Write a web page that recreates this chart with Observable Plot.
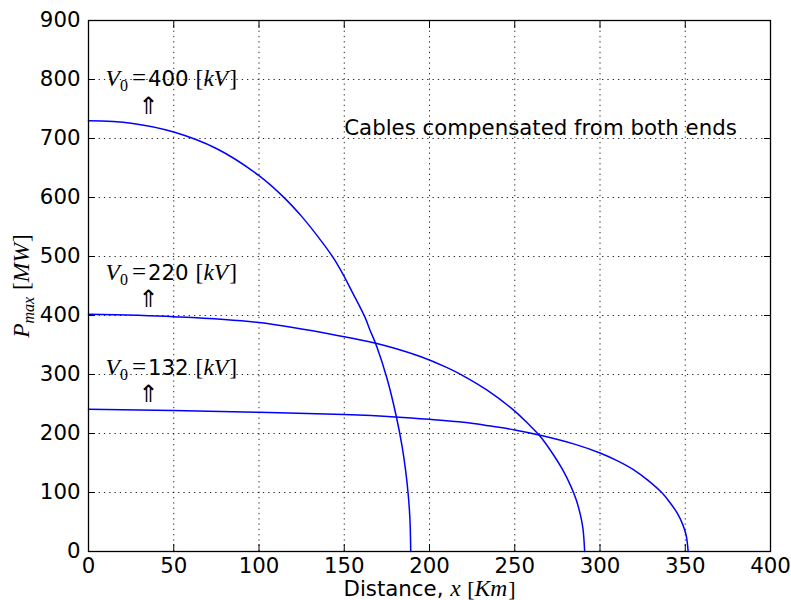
<!DOCTYPE html>
<html>
<head>
<meta charset="utf-8">
<script src="https://cdn.jsdelivr.net/npm/d3@7"></script>
<script src="https://cdn.jsdelivr.net/npm/@observablehq/plot@0.6"></script>
<style>
  body { margin: 0; background: #fff; }
  #chart svg { display: block; }
</style>
</head>
<body>
<div id="chart"></div>
<script>
// Maximum transmissible power of compensated cables versus distance.
const dist400 = [0, 25, 50, 75, 100, 115, 125, 135, 144, 150, 155, 162, 165, 169, 175, 180.6, 184, 186, 187.5, 188.5, 189];
const pmax400 = [730, 726, 711, 683, 637, 599, 568, 532, 496, 466, 438, 398, 376, 348, 294, 228, 177, 137, 97, 56, 0];

const dist220 = [0, 50, 100, 150, 168.5, 180, 195, 210, 219, 234, 250, 258, 265, 272, 278, 283, 286, 288.5, 290, 291];
const pmax220 = [402, 398, 388, 364, 353, 344, 330, 312, 299, 273, 238, 216, 195, 167, 139, 110, 88, 62, 39, 0];

const dist132 = [0, 50, 100, 150, 180, 200, 220, 235, 250, 265, 285, 300, 310, 320, 328, 336.5, 341, 345.3, 348.5, 350.5, 351.7];
const pmax132 = [241, 239, 236, 232, 228, 224, 219, 213, 206, 197, 182, 167, 154, 138, 121, 99, 83, 65, 46, 28, 0];

// Voltage annotations: label text position and the arrow under it
const voltages = ["400", "220", "132"];
const labelX = [10, 10, 10];
const labelY = [800, 472, 311];
const arrowX = [35, 35, 35];
const arrowY = [755, 427, 266];

const noteText = "Cables compensated from both ends";
const noteX = [150];
const noteY = [717];

const xTicks = [0, 50, 100, 150, 200, 250, 300, 350, 400];
const yTicks = [0, 100, 200, 300, 400, 500, 600, 700, 800, 900];

const SANS = "DejaVu Sans";
const SERIF = "Liberation Serif";
const FS = 21.3;
const MATH = 23.5;

const series = [
  {kv: "400", dist: dist400, pmax: pmax400},
  {kv: "220", dist: dist220, pmax: pmax220},
  {kv: "132", dist: dist132, pmax: pmax132}
];
const rows = series.flatMap(s => s.dist.map((d, i) => ({kv: s.kv, dist: d, pmax: s.pmax[i]})));

const gridStyle = {stroke: "#000", strokeOpacity: 0.85, strokeWidth: 1, strokeDasharray: "1.3,4"};

const chart = Plot.plot({
  width: 791,
  height: 600,
  marginLeft: 88,
  marginRight: 21,
  marginTop: 20,
  marginBottom: 49,
  x: {domain: [0, 400]},
  y: {domain: [0, 900]},
  style: {fontFamily: SANS, fontSize: FS + "px", color: "#000", background: "#fff"},
  marks: [
    Plot.ruleX(xTicks, gridStyle),
    Plot.ruleY(yTicks, gridStyle),
    Plot.line(rows, {x: "dist", y: "pmax", z: "kv", stroke: "#0000ff", strokeWidth: 1.5, curve: "catmull-rom"}),
    // tick labels
    Plot.axisX(xTicks, {anchor: "bottom", tickSize: 0, tickPadding: 6, fontSize: FS, label: null}),
    Plot.axisY(yTicks, {anchor: "left", tickSize: 0, tickPadding: 8, fontSize: FS, label: null}),
    // inward tick marks on all four sides
    Plot.axisX(xTicks, {anchor: "bottom", tickSize: 7, dy: -7, fill: "none", label: null}),
    Plot.axisX(xTicks, {anchor: "top", tickSize: 7, dy: 7, fill: "none", label: null}),
    Plot.axisY(yTicks, {anchor: "left", tickSize: 7, dx: 7, fill: "none", label: null}),
    Plot.axisY(yTicks, {anchor: "right", tickSize: 7, dx: -7, fill: "none", label: null}),
    Plot.frame({stroke: "#000", strokeWidth: 1.3}),
    // annotations
    Plot.text(voltages, {x: labelX, y: labelY, text: voltages, textAnchor: "start", lineAnchor: "middle", fontSize: FS, ariaDescription: "voltage label"}),
    Plot.text(voltages, {x: arrowX, y: arrowY, text: () => "\u21D1", lineAnchor: "middle", fontSize: 24, fontFamily: "DejaVu Sans", ariaDescription: "voltage arrow"}),
    Plot.text([noteText], {x: noteX, y: noteY, text: d => d, textAnchor: "start", lineAnchor: "middle", fontSize: FS, ariaDescription: "note"}),
    Plot.text(["Distance"], {frameAnchor: "bottom", dy: 38, textAnchor: "middle", lineAnchor: "middle", fontSize: FS, ariaDescription: "x label"}),
    Plot.text(["P"], {frameAnchor: "left", dx: -66, rotate: -90, textAnchor: "middle", lineAnchor: "middle", fontSize: FS, ariaDescription: "y label"})
  ]
});

// Mixed-font labels built from tspans
const SVGNS = "http://www.w3.org/2000/svg";
function setRich(el, parts) {
  el.textContent = "";
  for (const p of parts) {
    const ts = document.createElementNS(SVGNS, "tspan");
    ts.textContent = p.t;
    if (p.font) ts.setAttribute("font-family", p.font);
    if (p.italic) ts.setAttribute("font-style", "italic");
    if (p.size) ts.setAttribute("font-size", p.size);
    if (p.dx) ts.setAttribute("dx", p.dx);
    if (p.dy) ts.setAttribute("dy", p.dy);
    el.appendChild(ts);
  }
}
// text marks in drawing order: voltage labels, arrows, note, x label, y label
const textGroups = [...chart.querySelectorAll('g[aria-label="text"]')];
function textsOf(name, order) {
  let g = chart.querySelector(`g[aria-description="${name}"]`);
  if (!g) g = textGroups[order];
  return g ? [...g.querySelectorAll("text")] : [];
}

textsOf("voltage label", 0).forEach((el, i) => {
  setRich(el, [
    {t: "V", font: SERIF, italic: true, size: MATH},
    {t: "0", font: SERIF, size: 16, dy: 5},
    {t: "=", font: SERIF, size: 25, dx: 4, dy: -5},
    {t: voltages[i], font: SANS, size: FS, dx: 2},
    {t: " [", font: SERIF, size: MATH, dx: 1},
    {t: "kV", font: SERIF, italic: true, size: MATH},
    {t: "]", font: SERIF, size: MATH, dx: 1}
  ]);
});

textsOf("x label", 3).forEach(el => {
  setRich(el, [
    {t: "Distance, ", font: SANS, size: FS},
    {t: "x", font: SERIF, italic: true, size: MATH},
    {t: " [", font: SERIF, size: 22, dx: 1},
    {t: "Km", font: SERIF, italic: true, size: MATH},
    {t: "]", font: SERIF, size: 22, dx: 1}
  ]);
});

textsOf("y label", 4).forEach(el => {
  setRich(el, [
    {t: "P", font: SERIF, italic: true, size: MATH},
    {t: "max", font: SERIF, italic: true, size: 16, dy: 5},
    {t: " [", font: SERIF, size: MATH, dy: -5, dx: 1},
    {t: "MW", font: SERIF, italic: true, size: MATH},
    {t: "]", font: SERIF, size: MATH, dx: 1}
  ]);
});

document.getElementById("chart").appendChild(chart);
</script>
</body>
</html>
